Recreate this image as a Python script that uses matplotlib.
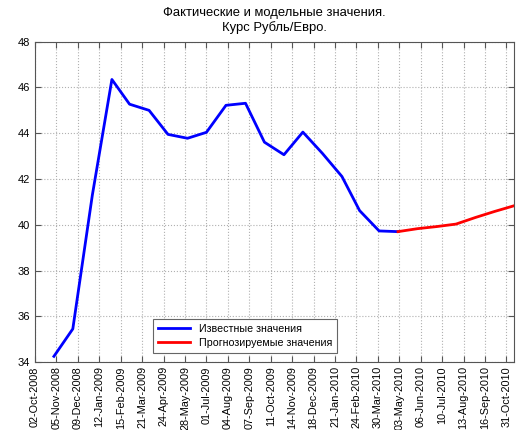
import datetime as dt

import matplotlib
matplotlib.use('Agg')
import matplotlib.pyplot as plt

plt.rcParams['font.family'] = ['Liberation Sans', 'DejaVu Sans']

# Monthly known values (1st of month), Nov-2008 .. May-2010
known_dates = [
    '2008-11-01', '2008-12-01', '2009-01-01', '2009-02-01', '2009-03-01',
    '2009-04-01', '2009-05-01', '2009-06-01', '2009-07-01', '2009-08-01',
    '2009-09-01', '2009-10-01', '2009-11-01', '2009-12-01', '2010-01-01',
    '2010-02-01', '2010-03-01', '2010-04-01', '2010-05-01',
]
known_values = [
    34.25, 35.45, 41.3, 46.35, 45.27,
    45.0, 43.95, 43.78, 44.04, 45.22,
    45.31, 43.61, 43.06, 44.05, 43.12,
    42.11, 40.62, 39.73, 39.7,
]

# Forecast values, May-2010 .. Nov-2010
forecast_dates = [
    '2010-05-01', '2010-06-01', '2010-07-01', '2010-08-01',
    '2010-09-01', '2010-10-01', '2010-11-01',
]
forecast_values = [39.7, 39.83, 39.92, 40.03, 40.32, 40.58, 40.83]

# Tick positions every 34 days from 02-Oct-2008; labels as in the original
tick_start = '2008-10-02'
tick_labels = [
    '02-Oct-2008', '05-Nov-2008', '09-Dec-2008', '12-Jan-2009', '15-Feb-2009',
    '21-Mar-2009', '24-Apr-2009', '28-May-2009', '01-Jul-2009', '04-Aug-2009',
    '07-Sep-2009', '11-Oct-2009', '14-Nov-2009', '18-Dec-2009', '21-Jan-2010',
    '24-Feb-2010', '30-Mar-2010', '03-May-2010', '06-Jun-2010', '10-Jul-2010',
    '13-Aug-2010', '16-Sep-2010', '31-Oct-2010',
]

title = 'Фактические и модельные значения.\nКурс Рубль/Евро.'
legend_labels = ['Известные значения', 'Прогнозируемые значения']


def to_date(s):
    return dt.datetime.strptime(s, '%Y-%m-%d')


fig = plt.figure(figsize=(5.17, 4.30), dpi=100)
ax = fig.add_axes([0.0677, 0.158, 0.9265, 0.745])

kd = [to_date(d) for d in known_dates]
fd = [to_date(d) for d in forecast_dates]
ax.plot(kd, known_values, color='#0000ff', lw=2.0, label=legend_labels[0])
ax.plot(fd, forecast_values, color='#ff0000', lw=2.0, label=legend_labels[1])

t0 = to_date(tick_start)
ticks = [t0 + dt.timedelta(days=34 * i) for i in range(len(tick_labels))]
ax.set_xticks(ticks)
ax.set_xticklabels(tick_labels, rotation=90, fontsize=7.8)
ax.set_xlim(t0, fd[-1])
ax.set_ylim(34, 48)
ax.set_yticks(range(34, 49, 2))
ax.tick_params(axis='y', labelsize=8)
ax.tick_params(axis='x', pad=3)
ax.tick_params(direction='in', top=True, right=True, length=4,
               color='#555555', width=0.8)

ax.grid(True, linestyle=':', color='#b0b0b0', linewidth=0.8)
for spine in ax.spines.values():
    spine.set_color('#555555')
    spine.set_linewidth(0.8)

ax.set_title(title, fontsize=9.4, pad=8, linespacing=1.2)

leg = ax.legend(loc='lower left', bbox_to_anchor=(0.236, 0.012), fontsize=7.7,
                fancybox=False, framealpha=1, edgecolor='#666666',
                handlelength=3.0, borderpad=0.45, labelspacing=0.4)
leg.get_frame().set_linewidth(0.8)

fig.savefig('out.png', dpi=100)
